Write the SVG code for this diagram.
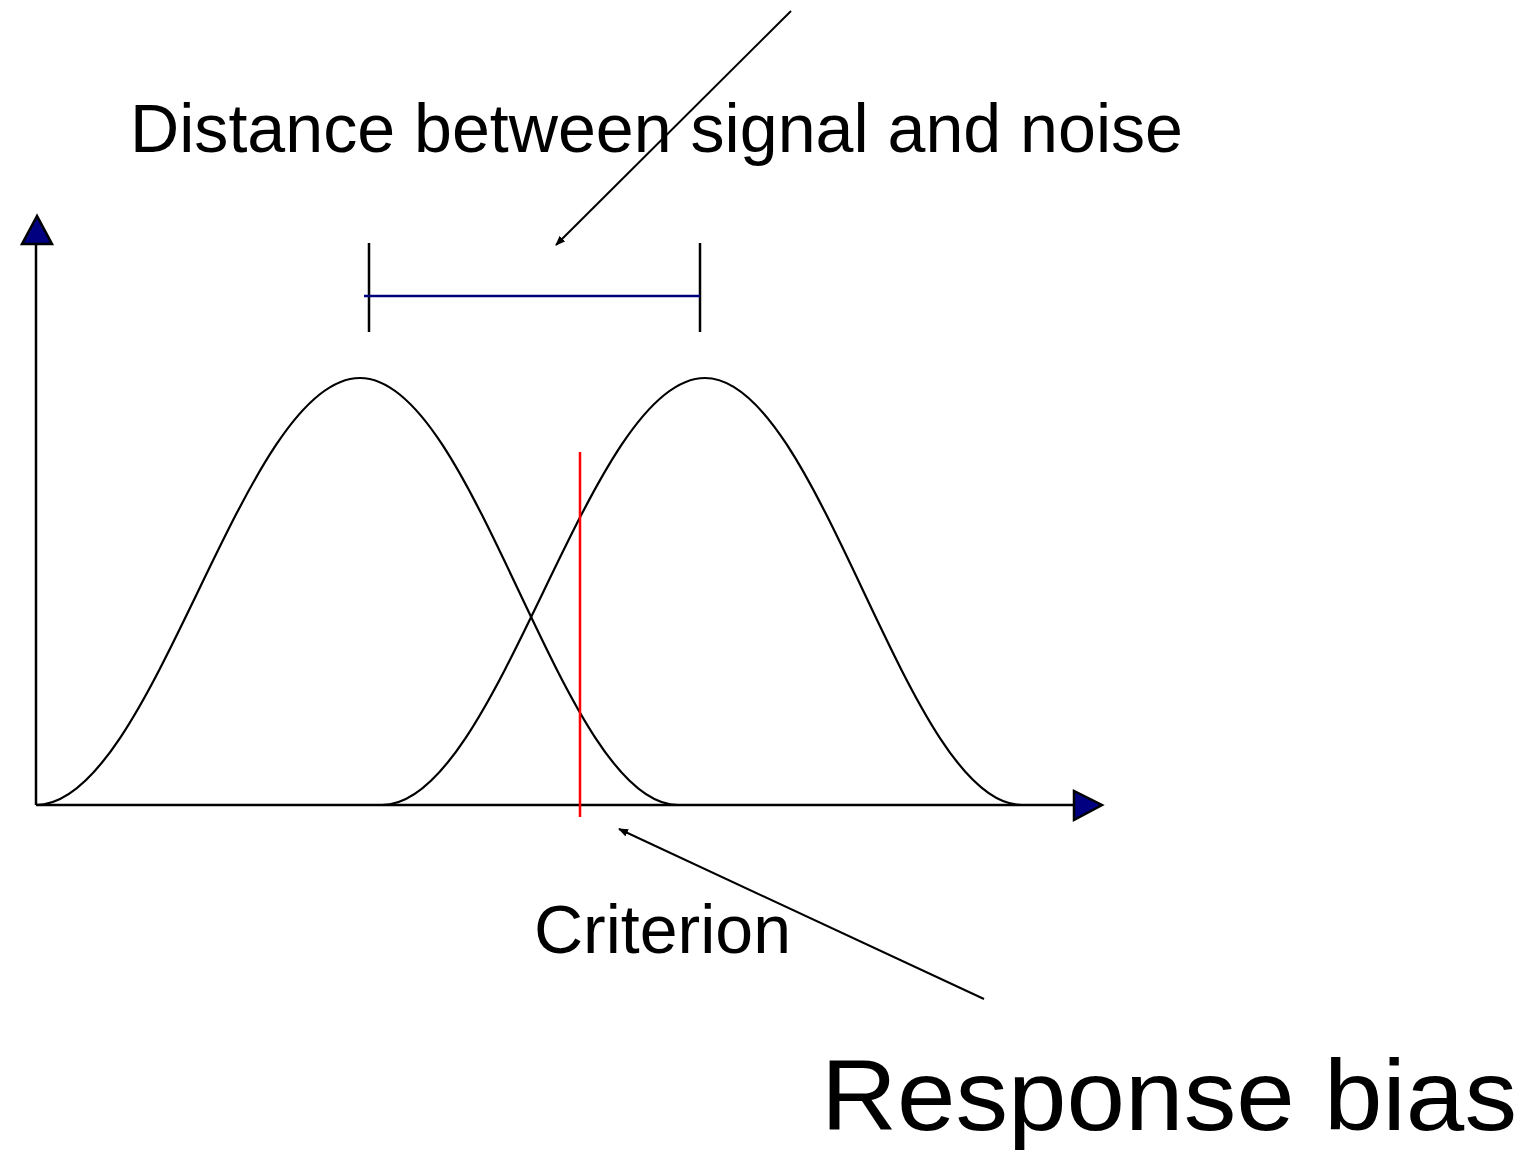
<svg xmlns="http://www.w3.org/2000/svg" width="1529" height="1150" viewBox="0 0 1529 1150">
<style>
.t{font-family:"Liberation Sans",Arial,sans-serif;fill:#000}
.ln{stroke:#000;stroke-width:2.5;fill:none}
.cv{stroke:#000;stroke-width:2.2;fill:none}
.ah{fill:#000080;stroke:#000;stroke-width:2.5;stroke-linejoin:miter}
</style>
<defs>
<marker id="sa" markerWidth="10" markerHeight="8" refX="9" refY="4" orient="auto" markerUnits="userSpaceOnUse">
<path d="M0,0 L10,4 L0,8 Z" fill="#000"/>
</marker>
</defs>
<rect width="1529" height="1150" fill="#fff"/>
<g id="axes">
<line class="ln" x1="36" y1="805" x2="36" y2="245"/>
<polygon class="ah" points="37,216 22,244 52,244"/>
<line class="ln" x1="36" y1="805" x2="1074" y2="805"/>
<polygon class="ah" points="1074,791 1074,820 1102,805"/>
</g>
<g id="noise-curve">
<path class="cv" d="M36,805 C154,805 242,378 360,378 C476,378 562,805 678,805"/>
</g>
<g id="signal-curve">
<path class="cv" d="M382,805 C499,805 588,378 705,378 C820,378 907,805 1022,805"/>
</g>
<g id="distance-bracket">
<line class="ln" x1="369" y1="243" x2="369" y2="332"/>
<line class="ln" x1="700" y1="243" x2="700" y2="332"/>
<line x1="364" y1="296" x2="700" y2="296" stroke="#000080" stroke-width="2.5"/>
</g>
<g id="criterion-line">
<line x1="580" y1="452" x2="580" y2="817" stroke="#ff0000" stroke-width="2.5"/>
</g>
<g id="connectors">
<line x1="791" y1="11" x2="556" y2="245" stroke="#000" stroke-width="2" marker-end="url(#sa)"/>
<line x1="984" y1="999" x2="619" y2="829" stroke="#000" stroke-width="2" marker-end="url(#sa)"/>
</g>
<g id="labels">
<text class="t" x="130" y="152" font-size="68" textLength="1053" lengthAdjust="spacingAndGlyphs">Distance between signal and noise</text>
<text class="t" x="534" y="953" font-size="68">Criterion</text>
<text class="t" x="821" y="1130" font-size="100" textLength="696" lengthAdjust="spacingAndGlyphs">Response bias</text>
</g>
</svg>
